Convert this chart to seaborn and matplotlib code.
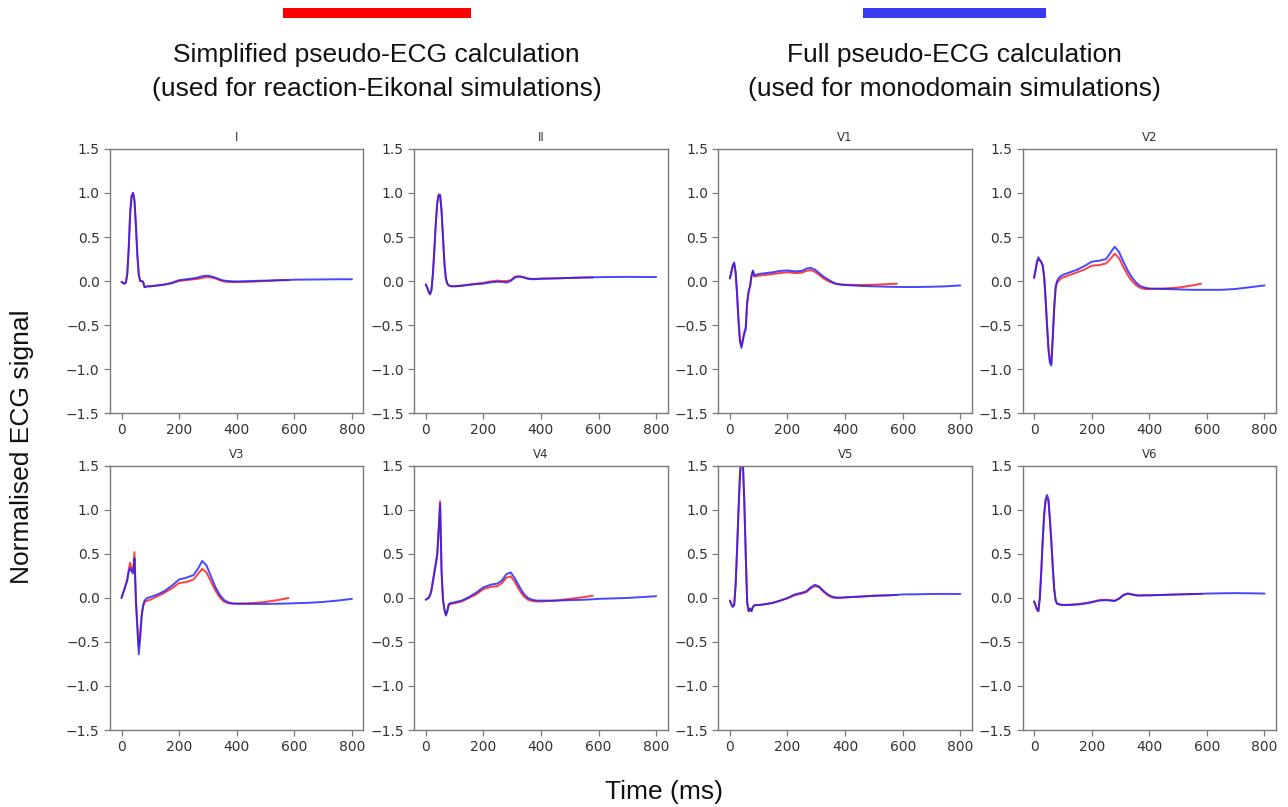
import numpy as np
import pandas as pd
import matplotlib
matplotlib.use("Agg")
import matplotlib.pyplot as plt
from matplotlib.patches import Rectangle
import seaborn as sns

# ---------------- data ----------------
time_ms = [0, 5, 10, 15, 20, 25, 30, 35, 40, 45, 50, 55, 60, 65, 70, 75, 80, 85, 90,
           100, 125, 150, 175, 200, 225, 250, 265, 280, 295, 310, 325, 340, 355, 370, 385, 400,
           450, 500, 550, 580, 600, 650, 700, 750, 800]
n_simplified = 40  # simplified (reaction-Eikonal) traces stop at 580 ms

leads = ["I", "II", "V1", "V2", "V3", "V4", "V5", "V6"]

# Simplified pseudo-ECG (red), values for time_ms[:40]
simp_I = [-0.01, -0.02, -0.03, -0.02, 0.08, 0.38, 0.78, 0.97, 1.0, 0.9, 0.62, 0.28, 0.07, 0.0, 0.0, -0.01, -0.07, -0.065, -0.06,
          -0.06, -0.05, -0.04, -0.025, 0.0, 0.01, 0.02, 0.025, 0.035, 0.045, 0.04, 0.03, 0.01, -0.005, -0.01, -0.012, -0.012,
          -0.008, 0.0, 0.008, 0.01]
simp_II = [-0.04, -0.07, -0.12, -0.15, -0.1, 0.08, 0.35, 0.65, 0.88, 0.98, 0.97, 0.8, 0.5, 0.2, 0.03, -0.03, -0.05, -0.055, -0.06,
           -0.06, -0.05, -0.04, -0.03, -0.02, -0.005, 0.005, 0.0, 0.0, 0.01, 0.05, 0.055, 0.045, 0.03, 0.025, 0.025, 0.028,
           0.03, 0.035, 0.04, 0.042]
simp_V1 = [0.03, 0.1, 0.17, 0.2, 0.09, -0.15, -0.45, -0.68, -0.74, -0.66, -0.58, -0.53, -0.25, -0.12, -0.06, 0.05, 0.11, 0.05, 0.055,
           0.06, 0.07, 0.08, 0.09, 0.1, 0.09, 0.095, 0.115, 0.125, 0.105, 0.07, 0.03, 0.0, -0.02, -0.035, -0.04, -0.042,
           -0.045, -0.042, -0.035, -0.03]
simp_V2 = [0.03, 0.12, 0.21, 0.25, 0.23, 0.21, 0.17, 0.05, -0.2, -0.5, -0.76, -0.9, -0.93, -0.62, -0.3, -0.08, -0.02, 0.0, 0.02,
           0.04, 0.07, 0.1, 0.13, 0.175, 0.18, 0.2, 0.25, 0.31, 0.26, 0.16, 0.07, 0.0, -0.05, -0.08, -0.09, -0.09,
           -0.085, -0.075, -0.05, -0.03]
simp_V3 = [0.0, 0.05, 0.1, 0.15, 0.22, 0.32, 0.4, 0.32, 0.3, 0.52, 0.0, -0.3, -0.55, -0.4, -0.2, -0.1, -0.05, -0.035, -0.03,
           -0.02, 0.02, 0.06, 0.11, 0.17, 0.18, 0.21, 0.27, 0.33, 0.29, 0.19, 0.09, 0.01, -0.04, -0.06, -0.065, -0.065,
           -0.06, -0.045, -0.02, 0.0]
simp_V4 = [-0.02, -0.01, 0.0, 0.03, 0.1, 0.2, 0.3, 0.4, 0.5, 0.8, 1.1, 0.32, -0.02, -0.13, -0.19, -0.15, -0.08, -0.07, -0.065,
           -0.06, -0.04, 0.0, 0.04, 0.1, 0.125, 0.135, 0.17, 0.23, 0.245, 0.18, 0.09, 0.02, -0.02, -0.035, -0.04, -0.04,
           -0.03, -0.01, 0.01, 0.025]
simp_V5 = [-0.03, -0.07, -0.1, -0.08, 0.15, 0.55, 1.0, 1.4, 1.6, 1.55, 1.1, 0.5, -0.05, -0.15, -0.12, -0.15, -0.1, -0.085, -0.08,
           -0.08, -0.07, -0.055, -0.03, -0.005, 0.03, 0.05, 0.065, 0.105, 0.135, 0.12, 0.07, 0.03, 0.005, 0.0, 0.0, 0.005,
           0.015, 0.025, 0.03, 0.035]
simp_V6 = [-0.04, -0.08, -0.13, -0.15, 0.0, 0.3, 0.65, 0.93, 1.1, 1.14, 1.1, 0.88, 0.63, 0.35, 0.1, -0.03, -0.065, -0.07, -0.075,
           -0.08, -0.075, -0.07, -0.06, -0.045, -0.025, -0.02, -0.025, -0.03, -0.005, 0.035, 0.05, 0.04, 0.03, 0.028, 0.03, 0.03,
           0.035, 0.04, 0.043, 0.045]

# Full pseudo-ECG (blue), values for all time_ms
full_I = [-0.01, -0.02, -0.03, -0.02, 0.08, 0.36, 0.76, 0.96, 1.0, 0.92, 0.64, 0.3, 0.07, 0.0, 0.0, -0.01, -0.07, -0.065, -0.06,
          -0.06, -0.05, -0.04, -0.02, 0.01, 0.02, 0.03, 0.04, 0.055, 0.06, 0.055, 0.04, 0.02, 0.005, 0.0, -0.003, -0.005,
          0.0, 0.005, 0.01, 0.012, 0.015, 0.017, 0.018, 0.02, 0.02]
full_II = [-0.04, -0.07, -0.12, -0.15, -0.1, 0.08, 0.35, 0.65, 0.88, 0.98, 0.98, 0.8, 0.5, 0.2, 0.03, -0.03, -0.05, -0.055, -0.06,
           -0.06, -0.055, -0.045, -0.035, -0.03, -0.015, -0.008, -0.01, -0.018, 0.0, 0.04, 0.05, 0.04, 0.025, 0.02, 0.022, 0.025,
           0.03, 0.035, 0.04, 0.042, 0.044, 0.046, 0.047, 0.046, 0.045]
full_V1 = [0.03, 0.1, 0.18, 0.21, 0.1, -0.15, -0.45, -0.68, -0.76, -0.68, -0.6, -0.55, -0.25, -0.12, -0.06, 0.06, 0.12, 0.06, 0.07,
           0.08, 0.09, 0.1, 0.115, 0.12, 0.11, 0.115, 0.14, 0.15, 0.13, 0.09, 0.05, 0.02, -0.01, -0.03, -0.04, -0.045,
           -0.055, -0.06, -0.065, -0.067, -0.068, -0.068, -0.065, -0.06, -0.05]
full_V2 = [0.04, 0.12, 0.22, 0.27, 0.24, 0.22, 0.18, 0.05, -0.2, -0.5, -0.78, -0.93, -0.96, -0.65, -0.3, -0.06, 0.0, 0.03, 0.05,
           0.07, 0.1, 0.13, 0.17, 0.22, 0.23, 0.25, 0.32, 0.39, 0.33, 0.22, 0.12, 0.04, -0.02, -0.06, -0.075, -0.085,
           -0.09, -0.095, -0.1, -0.1, -0.1, -0.1, -0.09, -0.07, -0.05]
full_V3 = [0.0, 0.05, 0.1, 0.15, 0.2, 0.3, 0.34, 0.3, 0.28, 0.45, -0.05, -0.35, -0.64, -0.45, -0.2, -0.08, -0.03, -0.01, 0.0,
           0.01, 0.04, 0.08, 0.14, 0.21, 0.23, 0.26, 0.33, 0.42, 0.37, 0.25, 0.13, 0.04, -0.02, -0.05, -0.06, -0.065,
           -0.067, -0.068, -0.065, -0.063, -0.06, -0.055, -0.045, -0.03, -0.01]
full_V4 = [-0.02, -0.01, 0.0, 0.03, 0.08, 0.18, 0.28, 0.38, 0.48, 0.75, 1.07, 0.3, -0.02, -0.13, -0.2, -0.15, -0.07, -0.06, -0.055,
           -0.05, -0.03, 0.01, 0.06, 0.12, 0.15, 0.165, 0.2, 0.27, 0.29, 0.22, 0.13, 0.05, 0.0, -0.02, -0.03, -0.03,
           -0.03, -0.025, -0.02, -0.015, -0.01, -0.005, 0.0, 0.01, 0.02]
full_V5 = [-0.03, -0.07, -0.1, -0.08, 0.15, 0.55, 1.0, 1.4, 1.6, 1.55, 1.1, 0.5, -0.05, -0.15, -0.12, -0.15, -0.1, -0.085, -0.08,
           -0.08, -0.07, -0.055, -0.03, 0.0, 0.04, 0.06, 0.075, 0.12, 0.15, 0.13, 0.08, 0.04, 0.015, 0.005, 0.005, 0.008,
           0.015, 0.025, 0.03, 0.035, 0.04, 0.042, 0.045, 0.046, 0.045]
full_V6 = [-0.04, -0.08, -0.13, -0.15, 0.0, 0.3, 0.65, 0.95, 1.12, 1.17, 1.12, 0.9, 0.65, 0.35, 0.1, -0.03, -0.065, -0.07, -0.075,
           -0.08, -0.08, -0.075, -0.065, -0.05, -0.03, -0.025, -0.03, -0.035, -0.01, 0.03, 0.05, 0.04, 0.03, 0.028, 0.03, 0.03,
           0.035, 0.04, 0.045, 0.047, 0.05, 0.053, 0.055, 0.053, 0.05]

simplified = [simp_I, simp_II, simp_V1, simp_V2, simp_V3, simp_V4, simp_V5, simp_V6]
full = [full_I, full_II, full_V1, full_V2, full_V3, full_V4, full_V5, full_V6]

x_ticks = [0, 200, 400, 600, 800]
y_ticks = [-1.5, -1.0, -0.5, 0.0, 0.5, 1.0, 1.5]

# ---------------- styling ----------------
sns.set_theme(style="ticks")
plt.rcParams["font.family"] = ["DejaVu Sans"]
RED = "#ff0000"
BLUE = "#1a1aff"
SPINE = "#7a7a7a"

fig, axes = plt.subplots(2, 4, figsize=(12.88, 8.07), dpi=100)
fig.subplots_adjust(left=0.0854, right=0.9907, top=0.8154, bottom=0.0954,
                    wspace=0.2, hspace=0.2)

for ax, name, s_vals, f_vals in zip(axes.flat, leads, simplified, full):
    df_s = pd.DataFrame({"t": time_ms[:n_simplified], "v": s_vals})
    df_f = pd.DataFrame({"t": time_ms, "v": f_vals})
    sns.lineplot(data=df_s, x="t", y="v", ax=ax, color=RED, alpha=0.75, linewidth=1.4)
    sns.lineplot(data=df_f, x="t", y="v", ax=ax, color=BLUE, alpha=0.8, linewidth=1.4)
    ax.set_ylim(-1.5, 1.5)
    ax.set_xlim(-40, 840)
    ax.set_xticks(x_ticks)
    ax.set_yticks(y_ticks)
    ax.set_xticklabels([str(v) for v in x_ticks])
    ax.set_yticklabels([f"{v:.1f}".replace("-", "\u2212") for v in y_ticks])
    ax.set_xlabel("")
    ax.set_ylabel("")
    ax.set_title(name, fontsize=8.5, color="#333333", pad=6)
    for sp in ax.spines.values():
        sp.set_visible(True)
        sp.set_color(SPINE)
        sp.set_linewidth(1.0)
    ax.tick_params(axis="both", labelsize=10, colors="#333333", length=4, width=0.9,
                   color=SPINE)
    ax.set_facecolor("white")

# header colour bars
fig.add_artist(Rectangle((283 / 1288, 1 - 18 / 807), 188 / 1288, 10 / 807,
                         transform=fig.transFigure, color=RED, lw=0))
fig.add_artist(Rectangle((863 / 1288, 1 - 18 / 807), 183 / 1288, 10 / 807,
                         transform=fig.transFigure, color="#3a3af0", lw=0))

hfont = ["Liberation Sans", "DejaVu Sans"]
fig.text(0.2923, 1 - 55 / 807, "Simplified pseudo-ECG calculation", ha="center", va="center",
         fontsize=19, family=hfont, color="#111111")
fig.text(0.2923, 1 - 89 / 807, "(used for reaction-Eikonal simulations)", ha="center", va="center",
         fontsize=19, family=hfont, color="#111111")
fig.text(0.7407, 1 - 55 / 807, "Full pseudo-ECG calculation", ha="center", va="center",
         fontsize=19, family=hfont, color="#111111")
fig.text(0.7407, 1 - 89 / 807, "(used for monodomain simulations)", ha="center", va="center",
         fontsize=19, family=hfont, color="#111111")

fig.text(0.017, 0.447, "Normalised ECG signal", rotation=90, ha="center", va="center",
         fontsize=19, family=hfont, color="#111111")
fig.text(0.5155, 1 - 792 / 807, "Time (ms)", ha="center", va="center",
         fontsize=19, family=hfont, color="#111111")

fig.savefig("out.png", dpi=100, facecolor="white")
